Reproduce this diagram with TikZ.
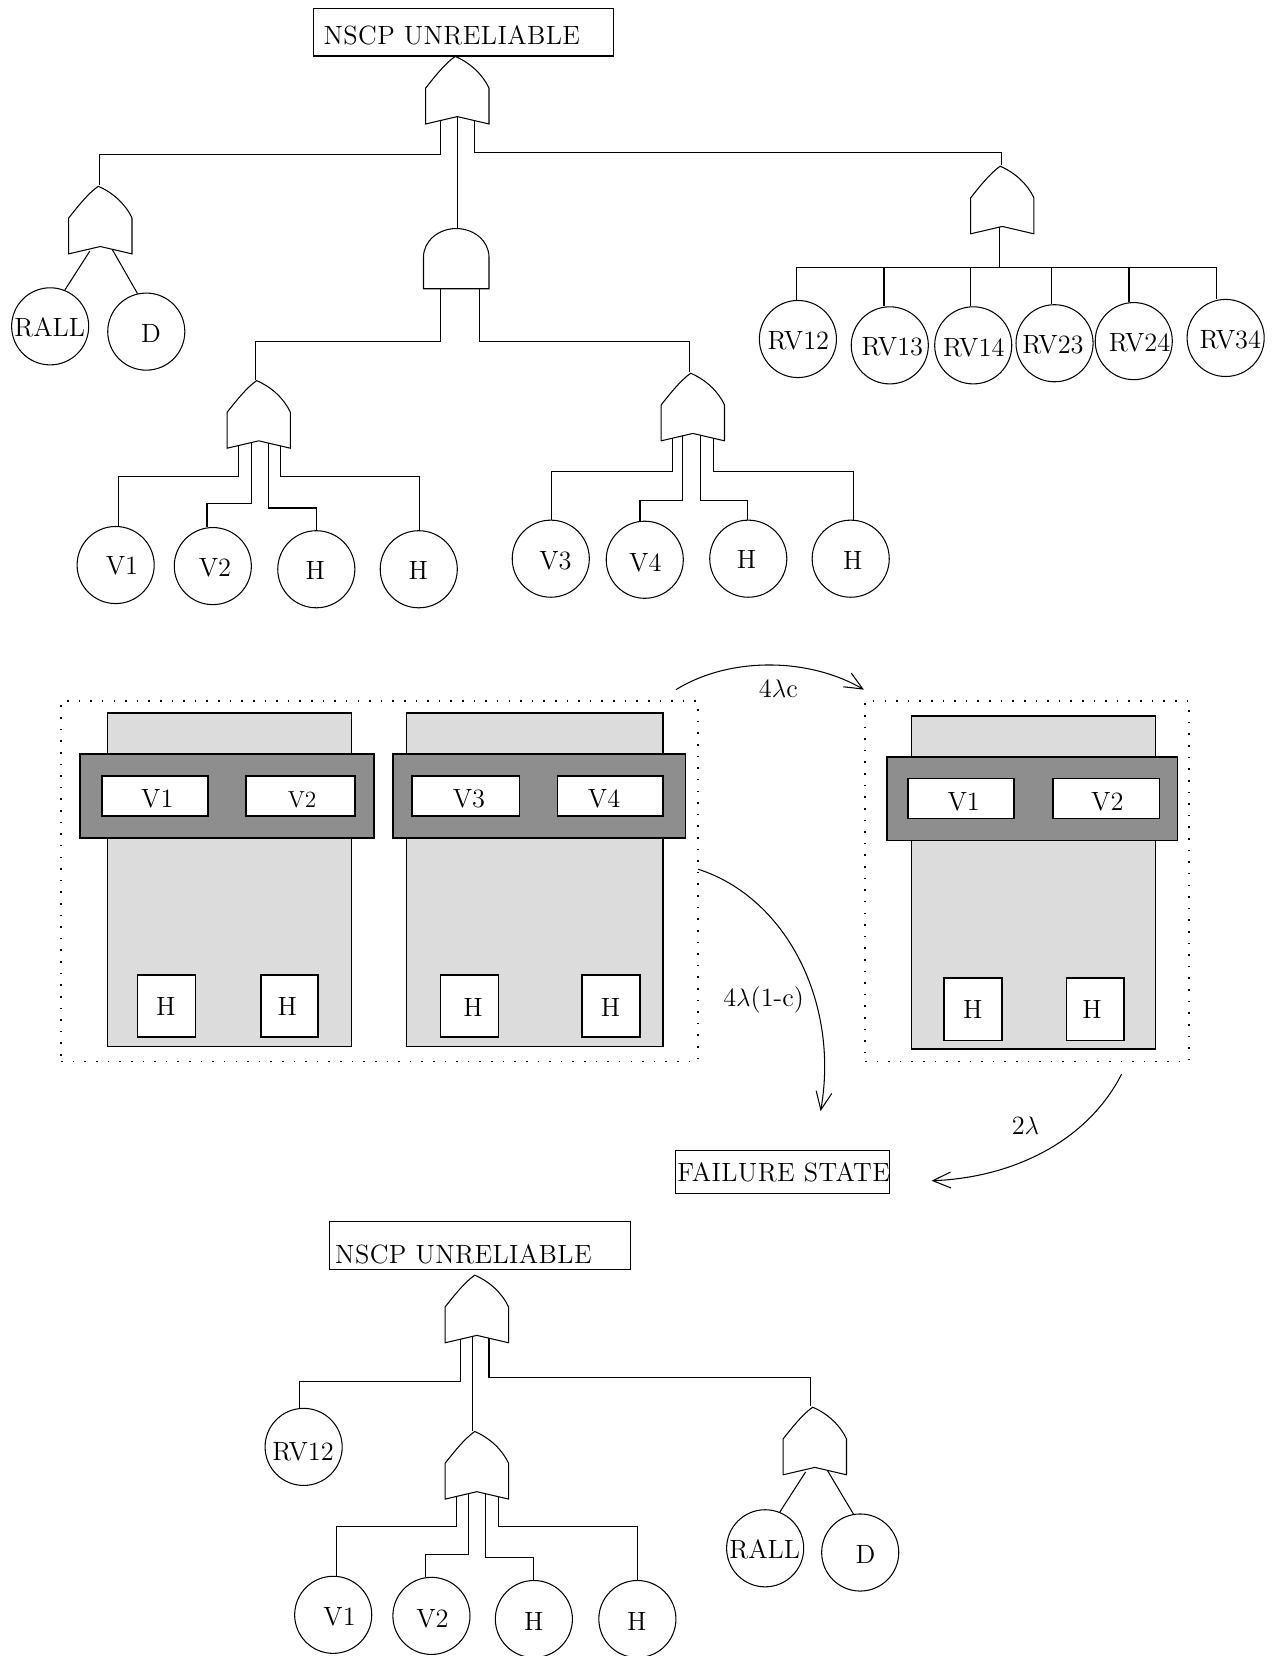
\documentclass[tikz,border=0pt]{standalone}
\usepackage{fontspec}
\usetikzlibrary{calc,arrows.meta}
\definecolor{lightg}{HTML}{DCDCDC}
\definecolor{darkg}{HTML}{8E8E8E}
\newfontfamily\lmspaced[LetterSpace=1.6]{Latin Modern Roman}
\newcommand{\ls}{\fontsize{12.5}{15}\selectfont}
\newcommand{\lswide}{\lmspaced\fontsize{12.5}{15}\selectfont}
\tikzset{
  wire/.style={line width=0.5pt},
  gatebox/.style={rectangle,inner sep=0pt,minimum width=30pt,minimum height=32pt},
  andbox/.style={rectangle,inner sep=0pt,minimum width=31pt,minimum height=28.5pt},
  evt/.style={circle,draw,line width=0.5pt,inner sep=0pt,minimum size=36.5pt},
  lab/.style={inner sep=0pt,font=\ls},
  widelab/.style={inner sep=0pt,font=\lswide},
  mathlab/.style={inner sep=0pt,font=\fontsize{12.5}{15}\selectfont},
  titlebox/.style={rectangle,draw,line width=0.5pt,inner sep=0pt},
  tall/.style={draw,fill=lightg,line width=0.75pt},
  band/.style={draw,fill=darkg,line width=0.75pt},
  unit/.style={rectangle,draw,fill=white,line width=0.75pt,inner sep=0pt},
  frame/.style={line width=0.75pt,dash pattern=on 0.75pt off 4.75pt},
  curved/.style={line width=0.5pt,-{Straight Barb[length=8.5pt,width=7.5pt,line width=0.5pt]}}
}
\newcommand{\orgate}[3]{%
  \node[gatebox] (#1) at (#2,{#3+32}) {};
  \begin{scope}[shift={(#1.south)}]
    \draw[wire] (-2,-64) .. controls (-12,-57) and (-22,-44) .. (-30,-34) -- (-30,0) -- (0,-7) -- (30,0) -- (30,-34) .. controls (24,-47) and (12,-58) .. (-2,-64) -- cycle;
  \end{scope}}
\newcommand{\andgate}[3]{%
  \node[andbox] (#1) at (#2,{#3+28.5}) {};
  \begin{scope}[shift={(#1.south)}]
    \draw[wire] (-31,0) -- (-31,-30) .. controls (-31,-45) and (-17,-57) .. (0,-57) .. controls (17,-57) and (31,-45) .. (31,-30) -- (31,0) -- cycle;
  \end{scope}}
\newcommand{\evnt}[6]{%
  \node[evt] (#1) at ({#2+0.5},#3) {};
  \node[lab] (#1t) at (#5,#6) {#4};}
\newcommand{\conn}[5]{%
  \coordinate (pa) at ($(#1.south)+(#2,{-7+7*abs(#2)/30})$);
  \coordinate (pb) at ($(#4.north)+(#5,0)$);
  \draw[wire] (pa) |- (pb |- 0,#3) -- (pb);}
\newcommand{\connflat}[5]{%
  \coordinate (pa) at ($(#1.south)+(#2,0)$);
  \coordinate (pb) at ($(#4.north)+(#5,0)$);
  \draw[wire] (pa) |- (pb |- 0,#3) -- (pb);}
\newcommand{\unitbox}[7]{%
  \node[unit,minimum width={(#4-#3)*0.5pt},minimum height={(#6-#5)*0.5pt}] (#1) at ({(#3+#4)/2},{(#5+#6)/2}) {};
  \node[lab] (#1t) at (#7) {#2};}
\begin{document}
\begin{tikzpicture}[x=0.5pt,y=-0.5pt]
\useasboundingbox (0,0) rectangle (1210,1568);
% --- top tree
\node[titlebox,minimum width=142pt,minimum height=22.5pt] (top) at (439,30.5) {};
\node[widelab,anchor=west] (topt) at (306,33.5) {NSCP UNRELIABLE};
\orgate{g0}{433}{53}
\orgate{gL}{95}{176}
\orgate{gR}{949}{157}
\andgate{aM}{432}{216}
\orgate{gV}{245}{360}
\orgate{gW}{656}{353}
\evnt{ra}{47}{309}{RALL}{47}{310}
\evnt{da}{138}{314}{D}{143}{316}
\evnt{r12}{755}{321}{RV12}{756}{323}
\evnt{r13}{842}{327}{RV13}{845}{328}
\evnt{r14}{921}{327}{RV14}{922}{329}
\evnt{r23}{998}{325}{RV23}{997}{326}
\evnt{r24}{1073}{323}{RV24}{1079}{325}
\evnt{r34}{1160}{320}{RV34}{1165}{322}
\evnt{v1}{109}{535}{V1}{115.5}{535.5}
\evnt{v2}{201}{536}{V2}{203.5}{537.5}
\evnt{h1}{299}{539}{H}{298.5}{540}
\evnt{h2}{396}{539}{H}{396}{540}
\evnt{v3}{521}{529}{V3}{526}{530.5}
\evnt{v4}{610}{530}{V4}{611}{533}
\evnt{h3}{708}{529}{H}{707}{530}
\evnt{h4}{805}{529}{H}{807.5}{530.5}
\conn{g0}{-16}{146}{gL}{-1}
\draw[wire] ($(g0.south)+(0,-7)$) -- ($(aM.north)+(1,0)$);
\conn{g0}{16}{144}{gR}{-1}
\draw[wire] ($(gL.south)+(-10,-2.6)$) -- (ra.68);
\draw[wire] ($(gL.south)+(11.4,-4)$) -- (da.103);
\conn{gR}{-3}{253}{r12}{-1.5}
\conn{gR}{-3}{253}{r13}{-5.5}
\conn{gR}{-3}{253}{r14}{-2.5}
\conn{gR}{-3}{253}{r23}{-2.5}
\conn{gR}{-3}{253}{r24}{-4.5}
\conn{gR}{-3}{253}{r34}{-8.5}
\connflat{aM}{-15}{323}{gV}{-3}
\connflat{aM}{22}{323}{gW}{-3}
\conn{gV}{-19}{451}{v1}{2.5}
\conn{gV}{-7}{477}{v2}{-5.5}
\conn{gV}{9}{481}{h1}{.5}
\conn{gV}{21}{451}{h2}{.5}
\conn{gW}{-19}{446}{v3}{.5}
\conn{gW}{-10}{474}{v4}{-4.5}
\conn{gW}{7}{474}{h3}{-.5}
\conn{gW}{20}{446}{h4}{2.5}
% --- middle: state boxes
\node[rectangle,frame,draw,inner sep=0pt,minimum width=301.5pt,minimum height=170.5pt] (fa) at (359.5,834.5) {};
\node[rectangle,frame,draw,inner sep=0pt,minimum width=153.5pt,minimum height=170.5pt] (fb) at (972.5,834.5) {};
\draw[tall] (101.6,675) rectangle (333,991);
\draw[band] (76,714) rectangle (354,793.5);
\unitbox{a1}{V1}{96.6}{197}{734.5}{772.7}{149,756.5}
\unitbox{a2}{{\fontsize{11}{13}\selectfont V2}}{233}{336}{734.5}{772.7}{286,757}
\unitbox{a3}{H}{130.3}{185.3}{923}{982}{157,953}
\unitbox{a4}{H}{247}{301}{923}{982}{272,953}
\draw[tall] (385,675) rectangle (628,991);
\draw[band] (372,714) rectangle (649,793.5);
\unitbox{b1}{V3}{390}{492}{734.5}{772.7}{444,756.5}
\unitbox{b2}{V4}{528}{628}{734.5}{772.7}{572,756.5}
\unitbox{b3}{H}{417}{472}{923}{982}{448,954}
\unitbox{b4}{H}{551}{606}{923}{982}{578,954}
\draw[tall] (863,678) rectangle (1094,993);
\draw[band] (840,717) rectangle (1115,796);
\unitbox{c1}{V1}{860}{960}{737}{775}{912.5,759}
\unitbox{c2}{V2}{997}{1098}{737}{775}{1048.5,759}
\unitbox{c3}{H}{894}{949}{926}{985}{921,956}
\unitbox{c4}{H}{1010}{1064}{926}{985}{1034,956}
\node[titlebox,minimum width=101pt,minimum height=20.5pt] (fail) at (741,1109.5) {};
\node[widelab] (failt) at (742,1110) {FAILURE STATE};
\coordinate (e1a) at (640,653);
\coordinate (e1b) at (818,653);
\coordinate (e2a) at (661,823);
\coordinate (e2b) at (777,1052);
\coordinate (e3a) at (1062,1017);
\coordinate (e3b) at (882,1118);
\draw[curved] (e1a) .. controls (690,622) and (765,622) .. (e1b);
\draw[curved] (e2a) .. controls (745,850) and (795,950) .. (e2b);
\draw[curved] (e3a) .. controls (1030,1080) and (960,1115) .. (e3b);
\node[mathlab] (l1) at (737,652) {4$\lambda$c};
\node[mathlab] (l2) at (723,947) {4$\lambda$(1-c)};
\node[mathlab] (l3) at (971,1066) {2$\lambda$};
% --- bottom tree
\node[titlebox,minimum width=142.5pt,minimum height=22.5pt] (bot) at (454.5,1179.5) {};
\node[widelab,anchor=west] (bott) at (317,1187.5) {NSCP UNRELIABLE};
\orgate{k0}{451.5}{1207}
\orgate{kM}{451.5}{1355}
\orgate{kR}{771.5}{1332}
\evnt{s12}{287}{1370}{RV12}{287}{1374.5}
\evnt{s1}{315}{1529}{V1}{321.5}{1530.5}
\evnt{s2}{408}{1530}{V2}{409.5}{1532.5}
\evnt{s3}{505}{1533}{H}{505.5}{1535}
\evnt{s4}{603}{1533}{H}{603}{1535}
\evnt{sr}{724}{1466}{RALL}{724}{1467}
\evnt{sd}{814}{1470}{D}{819.5}{1472}
\conn{k0}{-15.5}{1308.5}{s12}{-3.5}
\draw[wire] ($(k0.south)+(-4.5,-6)$) -- ($(kM.north)+(-4.5,0)$);
\conn{k0}{11.5}{1304.5}{kR}{-4.5}
\conn{kM}{-19.5}{1445}{s1}{3.5}
\conn{kM}{-7.5}{1472}{s2}{-5.5}
\conn{kM}{8.5}{1475}{s3}{0}
\conn{kM}{20.5}{1445}{s4}{0}
\draw[wire] ($(kR.south)+(-8.7,-2.7)$) -- (sr.68);
\draw[wire] ($(kR.south)+(12,-4)$) -- (sd.100);
\end{tikzpicture}
\end{document}
